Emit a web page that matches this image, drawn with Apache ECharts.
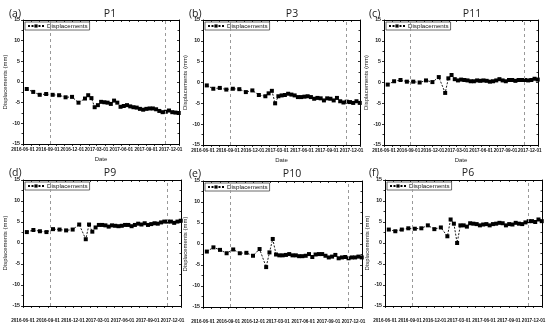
<!DOCTYPE html>
<html>
<head>
<meta charset="utf-8">
<script src="https://cdn.jsdelivr.net/npm/echarts@6/dist/echarts.min.js"></script>
<style>html,body{margin:0;padding:0;background:#fff;}#c{width:550px;height:326px;}</style>
</head>
<body>
<div id="c"></div>
<script>
// ---- data ----
const dates = ['2016-06-15','2016-07-09','2016-08-02','2016-08-26','2016-09-19','2016-10-13','2016-11-06','2016-11-30','2016-12-24',
  '2017-01-17','2017-01-29','2017-02-10','2017-02-22','2017-03-06','2017-03-18','2017-03-30','2017-04-11','2017-04-23','2017-05-05',
  '2017-05-17','2017-05-29','2017-06-10','2017-06-22','2017-07-04','2017-07-16','2017-07-28','2017-08-09','2017-08-21','2017-09-02',
  '2017-09-14','2017-09-26','2017-10-08','2017-10-20','2017-11-01','2017-11-13','2017-11-25','2017-12-07','2017-12-19','2017-12-31'];
const p1 = [-1.7,-2.4,-3.1,-2.9,-3.1,-3.2,-3.7,-3.6,-5.0,
  -4.0,-3.2,-3.9,-6.1,-5.6,-4.8,-4.9,-5.0,-5.3,-4.5,-5.0,-6.0,-5.8,-5.6,-5.9,-6.1,-6.2,-6.5,-6.7,-6.5,-6.4,-6.4,-6.6,-7.0,-7.3,-7.2,-6.9,-7.3,-7.4,-7.5];
const p3 = [-0.7,-1.5,-1.3,-1.7,-1.5,-1.6,-2.3,-1.9,-3.0,
  -3.3,-2.6,-2.0,-5.0,-3.3,-3.1,-3.0,-2.7,-2.9,-3.1,-3.5,-3.5,-3.4,-3.3,-3.5,-3.9,-3.7,-3.8,-4.3,-3.8,-3.9,-4.3,-3.7,-4.5,-4.8,-4.6,-4.7,-4.9,-4.5,-4.9];
const p11 = [-0.5,0.3,0.6,0.2,0.2,0.0,0.5,0.1,1.3,
  -2.5,1.0,1.8,0.8,0.5,0.7,0.6,0.5,0.3,0.3,0.5,0.4,0.5,0.4,0.2,0.3,0.5,0.8,0.5,0.3,0.6,0.6,0.4,0.6,0.6,0.6,0.5,0.6,0.9,0.7];
const p9 = [2.6,3.1,2.8,2.6,3.3,3.2,3.0,3.2,4.4,
  0.9,4.4,2.7,3.7,4.3,4.3,4.2,3.9,4.2,4.1,4.0,4.1,4.3,4.3,4.0,4.3,4.6,4.4,4.7,4.3,4.5,4.7,4.6,4.9,5.1,5.1,5.1,4.8,5.1,5.3];
const p10 = [-1.8,-0.8,-1.4,-2.2,-1.3,-2.2,-2.1,-2.8,-1.2,
  -5.5,-2.0,1.2,-2.5,-2.7,-2.7,-2.6,-2.4,-2.7,-2.7,-2.9,-2.9,-2.8,-2.4,-3.1,-2.5,-2.4,-2.4,-2.8,-3.2,-3.0,-2.6,-3.4,-3.2,-3.1,-3.4,-3.2,-3.2,-3.0,-3.2];
const p6 = [3.2,2.8,3.2,3.5,3.4,3.5,4.2,3.3,3.7,
  1.6,5.6,4.6,0.0,4.2,4.2,3.9,4.7,4.6,4.5,4.2,4.4,4.5,4.2,4.5,4.6,4.8,4.7,4.2,4.5,4.4,4.8,4.6,4.5,4.9,5.2,5.2,5.0,5.6,5.2];
const panelTitles = ['P1','P3','P11','P9','P10','P6'];
const panelTags = ['(a)','(b)','(c)','(d)','(e)','(f)'];
const panelValues = [p1,p3,p11,p9,p10,p6];
const xTickLabels = ['2016-06-01','2016-09-01','2016-12-01','2017-03-01','2017-06-01','2017-09-01','2017-12-01'];
const xRange = ['2016-06-01','2018-01-01'];
const eventDates = ['2016-09-09','2017-11-12'];
const yRange = [-15, 15];
const yStep = 5;
const seriesName = 'Displacements';
const yName = 'Displacements (mm)';
const xName = 'Date';

// ---- layout ----
const grids = [
  {left:23, top:20, width:156, height:124},
  {left:203, top:20, width:157, height:125},
  {left:384, top:20, width:154, height:125},
  {left:23, top:180, width:158, height:126},
  {left:203, top:181, width:159, height:126},
  {left:385, top:180, width:157, height:126}
];
const titlePos = [[105,4],[287,4],[467,4],[105,163],[287,164],[463,163]];
const tagPos = [[4,4],[184,4],[364,4],[4,163],[184,164],[364,163]];

function ts(s){const [y,m,d]=s.split('-').map(Number);return Date.UTC(y,m-1,d)/86400000;}
const xTickTs = xTickLabels.map(ts);
const monthTicks = [];
for (let y=2016,m=6; y<2018 || (y===2018 && m===1); ) { monthTicks.push(Date.UTC(y,m-1,1)/86400000); m++; if(m>12){m=1;y++;} }
function fmt(v){const k=xTickTs.indexOf(v);return k>=0?xTickLabels[k]:'';}

const option = {backgroundColor:'#fff', animation:false, title:[], legend:[], grid:[], xAxis:[], yAxis:[], series:[]};
const xTickFont = {fontSize:4.6, fontWeight:'bold', color:'#111', fontFamily:'Liberation Sans'};
const yTickFont = {fontSize:5.2, fontWeight:'bold', color:'#111', fontFamily:'Liberation Sans'};
grids.forEach((g,i)=>{
  option.grid.push(Object.assign({containLabel:false}, g));
  option.title.push({text:panelTitles[i], left:titlePos[i][0], top:titlePos[i][1], textAlign:'center',
    textStyle:{fontSize:10.5, fontWeight:'normal', color:'#222', fontFamily:'Open Sans'}});
  option.title.push({text:panelTags[i], left:tagPos[i][0], top:tagPos[i][1],
    textStyle:{fontSize:10.5, fontWeight:'normal', color:'#222', fontFamily:'Open Sans'}});
  const bottomRow = i>=3;
  option.xAxis.push({type:'value', gridIndex:i, position:'bottom', min:ts(xRange[0]), max:ts(xRange[1]),
    name: bottomRow ? '' : xName, nameLocation:'middle', nameGap:12,
    nameTextStyle:{fontSize:6, color:'#222', fontFamily:'Liberation Sans'},
    axisLine:{show:true, onZero:false, lineStyle:{color:'#000', width:1}},
    axisTick:{show:true, customValues:monthTicks, length:2, inside:false, lineStyle:{color:'#000', width:0.8}},
    axisLabel:Object.assign({show:true, customValues:xTickTs, formatter:v=>fmt(v), margin: bottomRow?12:3,
      hideOverlap:false, showMinLabel:true, showMaxLabel:true}, xTickFont),
    splitLine:{show:false}});
  option.xAxis.push({type:'value', gridIndex:i, position:'top', min:ts(xRange[0]), max:ts(xRange[1]),
    axisLine:{show:true, onZero:false, lineStyle:{color:'#000', width:1}},
    axisTick:{show:true, customValues:monthTicks, length:2, inside:true, lineStyle:{color:'#000', width:0.8}},
    axisLabel:{show:false}, splitLine:{show:false}});
  option.yAxis.push({type:'value', gridIndex:i, position:'left', min:yRange[0], max:yRange[1], interval:yStep,
    name:yName, nameLocation:'middle', nameGap:13,
    nameTextStyle:{fontSize:6, color:'#222', fontFamily:'Liberation Sans'},
    axisLine:{show:true, onZero:false, lineStyle:{color:'#000', width:1}},
    axisTick:{show:true, length:2, inside:false, lineStyle:{color:'#000', width:0.8}},
    minorTick:{show:true, splitNumber:2, length:1.5, lineStyle:{color:'#000', width:0.8}},
    axisLabel:Object.assign({margin:3, showMinLabel:true, showMaxLabel:true}, yTickFont), splitLine:{show:false}, minorSplitLine:{show:false}});
  option.yAxis.push({type:'value', gridIndex:i, position:'right', min:yRange[0], max:yRange[1], interval:yStep,
    axisLine:{show:true, onZero:false, lineStyle:{color:'#000', width:1}},
    axisTick:{show:true, length:2, inside:true, lineStyle:{color:'#000', width:0.8}},
    minorTick:{show:true, splitNumber:2, length:1.5, lineStyle:{color:'#000', width:0.8}},
    axisLabel:{show:false}, splitLine:{show:false}});
  option.legend.push({data:[seriesName], left:g.left+2, top:g.top+2, orient:'horizontal',
    borderColor:'#444', borderWidth:0.8, padding:[1,2,1,2], itemWidth:16, itemHeight:4, itemGap:2,
    textStyle:{fontSize:6.2, color:'#111', fontFamily:'Liberation Sans', padding:[0,0,0,-2]}});
  option.series.push({name:seriesName, type:'line', xAxisIndex:2*i, yAxisIndex:2*i,
    data: dates.map((d,k)=>[ts(d), panelValues[i][k]]),
    symbol:'rect', symbolSize:4, showSymbol:true,
    lineStyle:{color:'#000', width:0.9, type:[2,1.5]}, itemStyle:{color:'#000'},
    markLine:{silent:true, symbol:'none', label:{show:false},
      lineStyle:{color:'#999', width:1, type:[3,3]},
      data: eventDates.map(d=>({xAxis:ts(d)}))}});
});
const chart = echarts.init(document.getElementById('c'), null, {renderer:'canvas'});
chart.setOption(option);
</script>
</body>
</html>
